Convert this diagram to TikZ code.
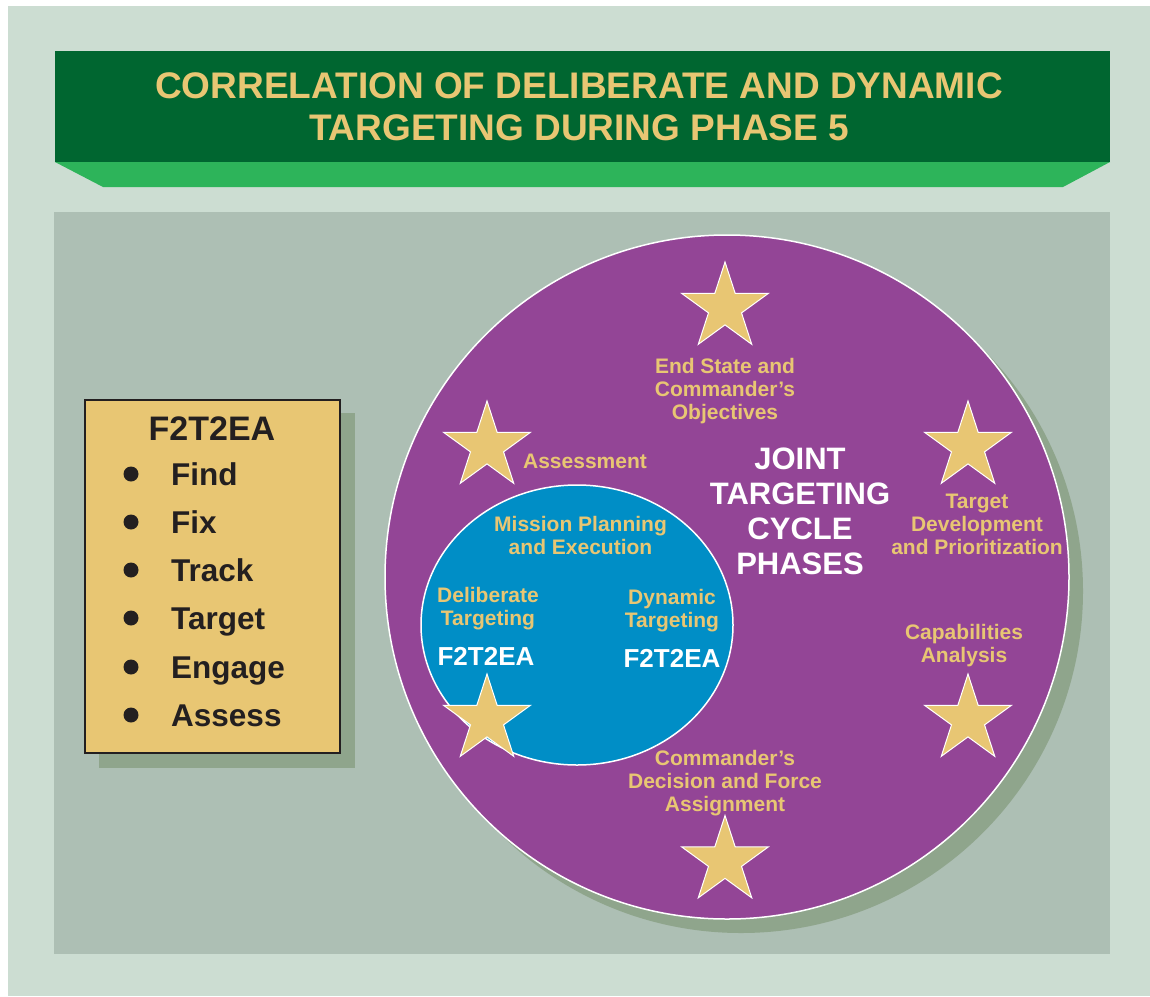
\documentclass[tikz,border=0pt]{standalone}
\usepackage{fontspec}
\setmainfont{Liberation Sans}
\usepackage{tikz}
\usetikzlibrary{positioning}
\usetikzlibrary{shapes.geometric}

\definecolor{pagebg}{HTML}{CCDDD2}
\definecolor{panelbg}{HTML}{ADBFB4}
\definecolor{darkgreen}{HTML}{006630}
\definecolor{lightgreen}{HTML}{2DB45A}
\definecolor{gold}{HTML}{E8C673}
\definecolor{shadowgreen}{HTML}{8FA58C}
\definecolor{cyclepurple}{HTML}{934596}
\definecolor{cycleblue}{HTML}{008EC6}
\definecolor{ink}{HTML}{231F20}

\begin{document}
\begin{tikzpicture} [x = 1pt, y = -1pt,
    phase/.style = {text = gold, font = \bfseries\fontsize{21}{23}\selectfont, align = center, inner sep = 0, anchor = north},
    loopname/.style = {text = white, font = \bfseries\fontsize{26}{30}\selectfont, inner sep = 0, anchor = base},
    bigstar/.style = {star, star points = 5, star point ratio = 2.618, minimum size = 91pt, inner sep = 0, fill = gold, draw = white, line width = 1pt},
    listitem/.style = {text = ink, font = \bfseries\fontsize{31.5}{36}\selectfont, inner sep = 0, anchor = base west},
    bulletdot/.style = {circle, fill = ink, minimum size = 15pt, inner sep = 0}]
    \useasboundingbox (0,0) rectangle (1150,996);
    \fill [pagebg] (8,6) rectangle (1150,996);
    \fill [darkgreen] (55,51) rectangle (1110,162);
    \fill [lightgreen] (55,162)--(1110,162)--(1063,187)--(103,187)--cycle;
    \fill [panelbg] (54,212) rectangle (1110,954);
    \node [text = gold, font = \bfseries\fontsize{37}{42}\selectfont, align = center, inner sep = 0, anchor = north] (title) at (579,72.5) {CORRELATION OF DELIBERATE AND DYNAMIC\\TARGETING DURING PHASE 5};

    \fill [shadowgreen] (99,413) rectangle (355,768);
    \node [draw = ink, line width = 2pt, fill = gold, minimum width = 255pt, minimum height = 353pt, inner sep = 0] (listbox) at (212.7,576.5) {};
    \node [text = ink, font = \bfseries\fontsize{34}{40}\selectfont, inner sep = 0, anchor = base] (listtitle) at (212,440) {F2T2EA};
    \node [listitem] (find) at (171,485) {Find};
    \node [listitem] (fix) at (171,533) {Fix};
    \node [listitem] (track) at (171,581) {Track};
    \node [listitem] (target) at (171,629) {Target};
    \node [listitem] (engage) at (171,678) {Engage};
    \node [listitem] (assess) at (171,726) {Assess};
    \node [bulletdot] (findbullet) at (131,474) {};
    \node [bulletdot] (fixbullet) at (131,522) {};
    \node [bulletdot] (trackbullet) at (131,570) {};
    \node [bulletdot] (targetbullet) at (131,618) {};
    \node [bulletdot] (engagebullet) at (131,667) {};
    \node [bulletdot] (assessbullet) at (131,715) {};

    \node [circle, fill = shadowgreen, minimum size = 684pt, inner sep = 0] (cycleshadow) at (741,591) {};
    \node [circle, fill = cyclepurple, draw = white, line width = 1.5pt, minimum size = 684pt, inner sep = 0] (cycle) at (727,577) {};
    \node [ellipse, fill = cycleblue, draw = white, line width = 1.5pt, minimum width = 312pt, minimum height = 280pt, inner sep = 0] (mission) at (577,625) {};

    \node [bigstar] (objstar) at (725,307.5) {};
    \node [bigstar] (assessstar) at (487,446.5) {};
    \node [bigstar] (devstar) at (968,446.5) {};
    \node [bigstar] (capstar) at (968,719.5) {};
    \node [bigstar] (decisionstar) at (725,861) {};
    \node [bigstar] (missionstar) at (487,719.5) {};

    \node [phase] (objectives) at (725,358.5) {End State and\\Commander’s\\Objectives};
    \node [phase] (assessment) at (585,453.5) {Assessment};
    \node [phase] (development) at (977,493.5) {Target\\Development\\and Prioritization};
    \node [phase] (capabilities) at (964,624.5) {Capabilities\\Analysis};
    \node [phase] (decision) at (725,750.5) {Commander’s\\Decision and Force\\Assignment};
    \node [phase] (planning) at (580.5,516.5) {Mission Planning\\and Execution};
    \node [phase] (deliberate) at (488,587.5) {Deliberate\\Targeting};
    \node [phase] (dynamic) at (672,589.5) {Dynamic\\Targeting};
    \node [loopname] (deliberateloop) at (486,665.3) {F2T2EA};
    \node [loopname] (dynamicloop) at (672,667) {F2T2EA};
    \node [text = white, font = \bfseries\fontsize{31}{35.2}\selectfont, align = center, inner sep = 0, anchor = north] (jtc) at (800,447.5) {JOINT\\TARGETING\\CYCLE\\PHASES};
  \end{tikzpicture}
\end{document}
